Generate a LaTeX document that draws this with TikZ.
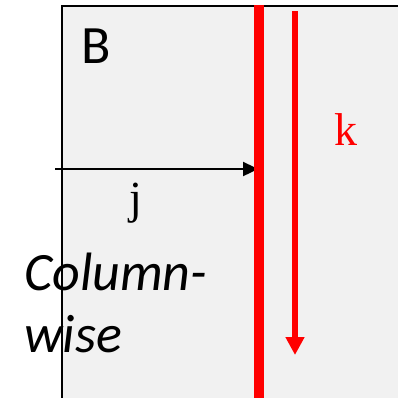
\documentclass[tikz,border=0pt]{standalone}
\usepackage{fontspec}
\setmainfont{Liberation Serif}
\newfontfamily\carlito{Carlito}
\usetikzlibrary{arrows.meta,positioning}
\definecolor{panel}{HTML}{F1F1F1}

\begin{document}
\begin{tikzpicture}[
    x=1pt, y=-1pt,
    sans/.style={inner sep=0pt, anchor=base west, font=\carlito\fontsize{54}{62}\selectfont},
    serif/.style={inner sep=0pt, anchor=base west, font=\fontsize{46}{50}\selectfont},
    column/.style={red, line width=9.5pt},
    walk/.style={-{Triangle[length=15pt,width=14pt]}, line width=2.4pt},
    down/.style={red, line width=6pt, -{Triangle[length=18pt,width=18pt]}}
]
\useasboundingbox (0,0) rectangle (398,397);
\clip (0,0) rectangle (398,397);
% matrix B
\draw[panel, fill=panel] (62,6) rectangle (420,420);
\draw[line width=2pt] (62,420) -- (62,6) -- (420,6);
\node[sans] (name) at (81,63) {B};
% column and its walk
\coordinate (ctop) at (259,5);
\coordinate (cbot) at (259,400);
\coordinate (jstart) at (55,169);
\coordinate (jend) at (258,169);
\coordinate (ktop) at (295,11);
\coordinate (kbot) at (295,355);
\draw[walk] (jstart) -- (jend);
\draw[column] (ctop) -- (cbot);
\draw[down] (ktop) -- (kbot);
\node[serif] (jlabel) at (129,213) {j};
\node[serif, red] (klabel) at (334,145) {k};
\node[sans, align=left, font=\carlito\itshape\fontsize{54}{62}\selectfont] (mode) at (24,352) {Column-\\wise};
\end{tikzpicture}
\end{document}
